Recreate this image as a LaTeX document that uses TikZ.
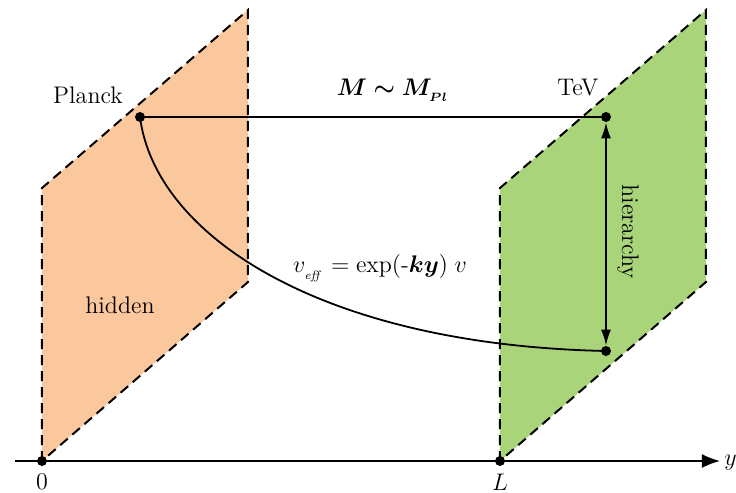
\documentclass[tikz,border=0pt]{standalone}
\usepackage{amsmath,bm}
\usetikzlibrary{arrows.meta}
\definecolor{hidcol}{RGB}{251,200,158}
\definecolor{tevcol}{RGB}{169,212,122}
\begin{document}
\begin{tikzpicture}[x=0.5pt,y=-0.5pt,
  brane/.style={dashed,dash pattern=on 5pt off 3pt,line width=1pt},
  dotnode/.style={circle,fill=black,inner sep=0pt,minimum size=5pt},
  lbl/.style={font=\fontsize{12}{14}\selectfont,inner sep=1pt},
  line/.style={line width=0.9pt}]
\useasboundingbox (0,0) rectangle (736,493);
% corners
\coordinate (h1) at (42,461);
\coordinate (h2) at (42,188);
\coordinate (h3) at (248,10);
\coordinate (h4) at (248,282);
\coordinate (t1) at (500,461);
\coordinate (t2) at (500,188);
\coordinate (t3) at (706,10);
\coordinate (t4) at (706,282);
\fill[hidcol] (h1) -- (h2) -- (h3) -- (h4) -- cycle;
\fill[tevcol] (t1) -- (t2) -- (t3) -- (t4) -- cycle;
\draw[brane] (h1) -- (h2) -- (h3) -- (h4) -- cycle;
\draw[brane] (t1) -- (t2) -- (t3) -- (t4) -- cycle;
% axis
\coordinate (ax0) at (15,461);
\coordinate (ax1) at (720,461);
\draw[line,-{Latex[length=9pt,width=7pt]}] (ax0) -- (ax1);
\node[lbl,anchor=west] (ylab) at (722,463) {$y$};
\node[dotnode] (o) at (42,461) {};
\node[dotnode] (l) at (500,461) {};
\node[lbl] (olab) at (42,482) {$0$};
\node[lbl] (llab) at (500,482) {$L$};
% dots
\node[dotnode] (pl) at (140,117) {};
\node[dotnode] (tv) at (606,117) {};
\node[dotnode] (lo) at (606,351) {};
\draw[line] (pl) -- (tv);
\draw[line] (pl.center) .. controls (155,235) and (320,345) .. (lo.center);
\draw[line,{Latex[length=8pt,width=5pt]}-{Latex[length=8pt,width=5pt]}] (tv) -- (lo);
% labels
\node[lbl] (planck) at (88,95) {Planck};
\node[lbl] (tev) at (578,88) {TeV};
\node[lbl] (mm) at (393,90) {$\bm{M \sim M_{_{Pl}}}$};
\node[lbl] (veff) at (380,268) {$v_{_{\mathit{eff}}} = \exp(\mbox{-}\bm{ky})\; v$};
\node[lbl] (hid) at (120,305) {hidden};
\node[lbl,rotate=-90] (hier) at (628,232) {hierarchy};
\end{tikzpicture}
\end{document}
